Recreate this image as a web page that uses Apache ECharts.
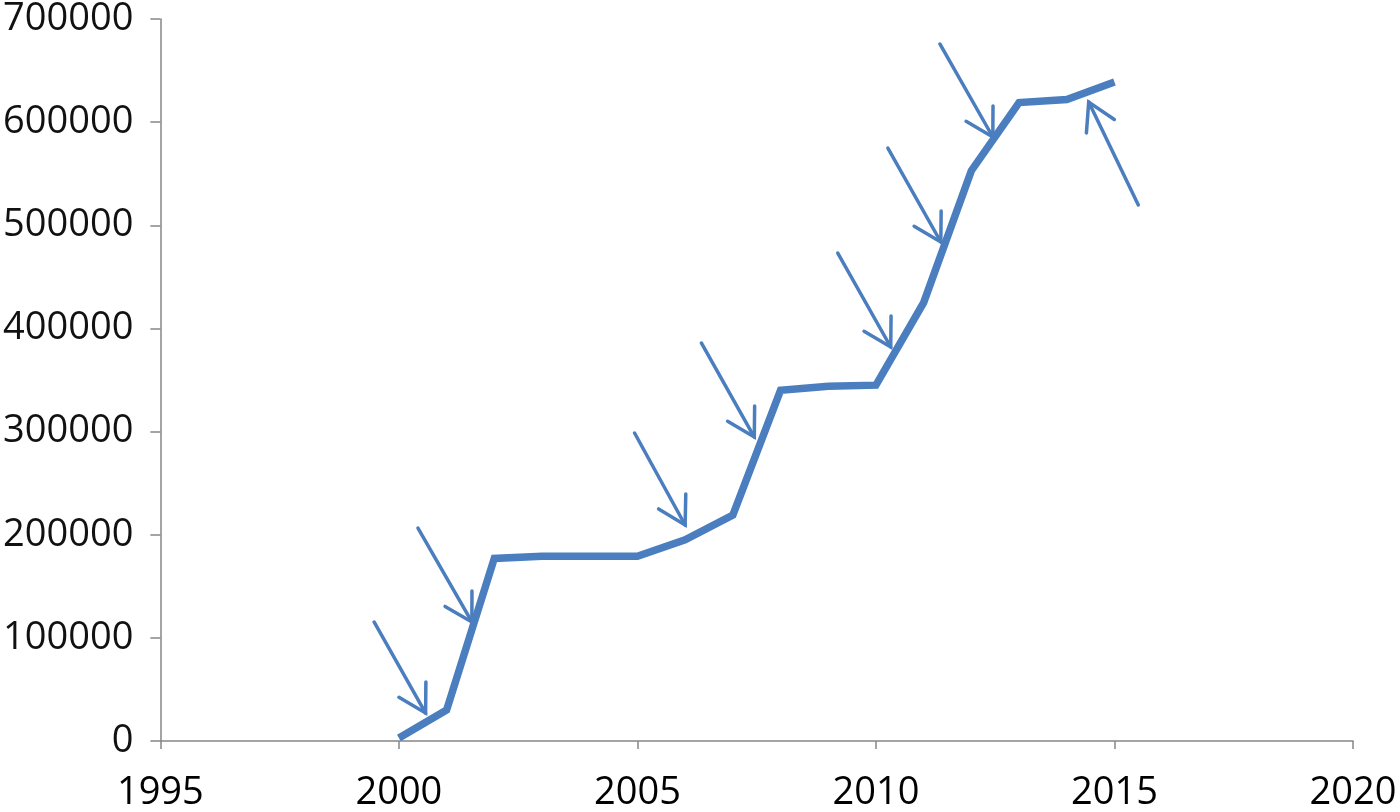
<!DOCTYPE html>
<html>
<head>
<meta charset="utf-8">
<script src="https://cdn.jsdelivr.net/npm/echarts@6/dist/echarts.min.js"></script>
<style>
html,body{margin:0;padding:0;background:#fff;}
#chart{width:1400px;height:812px;}
</style>
</head>
<body>
<div id="chart"></div>
<script>
// Data
var years = [2000, 2001, 2002, 2003, 2004, 2005, 2006, 2007, 2008, 2009, 2010, 2011, 2012, 2013, 2014, 2015];
var values = [3000, 30000, 177000, 179000, 179000, 179000, 195000, 219000, 340000, 344000, 345000, 425000, 553000, 619000, 622000, 639000];
// Annotation arrows: [startYear, startValue, tipYear, tipValue]
var arrows = [
  [1999.48, 115400, 2000.56, 27100],
  [2000.40, 206500, 2001.53, 115400],
  [2004.94, 298600, 2006.00, 209400],
  [2006.34, 385900, 2007.45, 294700],
  [2009.20, 473100, 2010.31, 382000],
  [2010.25, 574900, 2011.36, 483800],
  [2011.34, 675800, 2012.45, 585600],
  [2015.50, 519700, 2014.46, 619500]
];
var xTicks = {min: 1995, max: 2020, interval: 5};
var yTicks = {min: 0, max: 700000, interval: 100000};

var blue = '#4A7EBF';
var axisGrey = '#868686';
var font = '"Open Sans", sans-serif';

var chart = echarts.init(document.getElementById('chart'));
chart.setOption({
  animation: false,
  backgroundColor: '#ffffff',
  grid: {left: 158, right: 47, top: 19, bottom: 71, containLabel: false},
  xAxis: {
    type: 'value',
    min: xTicks.min, max: xTicks.max, interval: xTicks.interval,
    splitLine: {show: false},
    axisLine: {show: true, lineStyle: {color: axisGrey, width: 1.5}},
    axisTick: {show: true, length: 8, lineStyle: {color: axisGrey, width: 1.5}},
    axisLabel: {color: '#000', fontFamily: font, fontSize: 38, margin: 33,
      formatter: function (v) { return String(v); }}
  },
  yAxis: {
    type: 'value',
    min: yTicks.min, max: yTicks.max, interval: yTicks.interval,
    splitLine: {show: false},
    axisLine: {show: true, lineStyle: {color: axisGrey, width: 1.5}},
    axisTick: {show: true, length: 10, lineStyle: {color: axisGrey, width: 1.5}},
    axisLabel: {color: '#111', fontFamily: font, fontSize: 38, margin: 27,
      formatter: function (v) { return String(v); }}
  },
  series: [
    {
      type: 'line',
      data: years.map(function (y, i) { return [y, values[i]]; }),
      showSymbol: false,
      symbol: 'none',
      lineStyle: {color: blue, width: 7.5, join: 'miter', cap: 'butt'},
      z: 3
    },
    {
      type: 'custom',
      data: arrows,
      z: 4,
      renderItem: function (params, api) {
        var s = api.coord([api.value(0), api.value(1)]);
        var t = api.coord([api.value(2), api.value(3)]);
        var ang = Math.atan2(s[1] - t[1], s[0] - t[0]);
        var L = 31, a = Math.PI / 6;
        var w1 = [t[0] + L * Math.cos(ang + a), t[1] + L * Math.sin(ang + a)];
        var w2 = [t[0] + L * Math.cos(ang - a), t[1] + L * Math.sin(ang - a)];
        var style = {stroke: blue, lineWidth: 3.5, fill: null, lineCap: 'round', lineJoin: 'miter'};
        return {
          type: 'group',
          children: [
            {type: 'line', shape: {x1: s[0], y1: s[1], x2: t[0], y2: t[1]}, style: style},
            {type: 'polyline', shape: {points: [w1, t, w2]}, style: style}
          ]
        };
      }
    }
  ]
});
</script>
</body>
</html>
